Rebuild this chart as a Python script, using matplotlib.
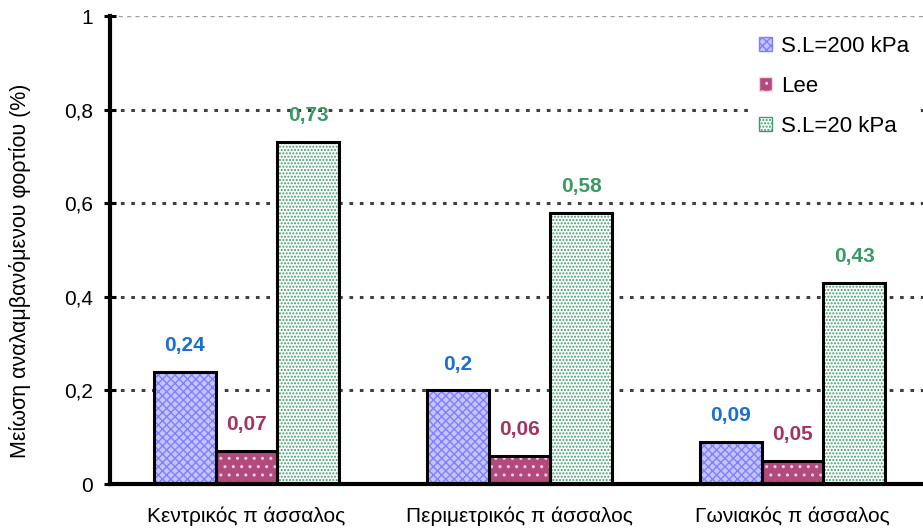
import matplotlib.pyplot as plt
import numpy as np
from matplotlib.ticker import FuncFormatter

plt.rcParams['font.family'] = ['Liberation Sans', 'DejaVu Sans']

katigories = ['Κεντρικός π άσσαλος', 'Περιμετρικός π άσσαλος', 'Γωνιακός π άσσαλος']
seires = ['S.L=200 kPa', 'Lee', 'S.L=20 kPa']
sl200 = [0.24, 0.20, 0.09]
lee = [0.07, 0.06, 0.05]
sl20 = [0.73, 0.58, 0.43]

# (χρώμα γεμίσματος, χρώμα μοτίβου, μοτίβο, χρώμα ετικέτας)
styl = [
    ('#c4c4ff', '#7f7fff', 'xxxx', '#1a6fd0'),
    ('#b34a7c', '#f2d6e3', '..', '#a23462'),
    ('#ffffff', '#3c9d6c', '.....', '#3a9a66'),
]

fig = plt.figure(figsize=(9.23, 5.29), dpi=100)
ax = fig.add_axes([110 / 923, 45 / 529, 819 / 923, 468 / 529])

x = np.arange(len(katigories))
w = 0.227
for i, (vals, name) in enumerate(zip([sl200, lee, sl20], seires)):
    fc, hc, hatch, lc = styl[i]
    pos = x + (i - 1) * w
    ax.bar(pos, vals, w, color=fc, edgecolor=hc, hatch=hatch, linewidth=0, zorder=2)
    ax.bar(pos, vals, w, fill=False, edgecolor='black', linewidth=2.2, zorder=3)
    # στοιχείο υπομνήματος
    ax.bar([0], [0], 0, color=fc, edgecolor=hc, hatch=hatch, label=name)
    for p, v in zip(pos, vals):
        ax.annotate(f'{v:g}'.replace('.', ','), (p, v), xytext=(0, 19),
                    textcoords='offset points', ha='center', va='center',
                    fontsize=15, fontweight='bold', color=lc)

ax.set_xlim(-0.5, 2.5)
ax.set_ylim(0, 1)
ax.set_yticks([0, 0.2, 0.4, 0.6, 0.8, 1])
ax.yaxis.set_major_formatter(FuncFormatter(lambda v, _: f'{v:g}'.replace('.', ',')))
ax.set_xticks(x)
ax.set_xticklabels(katigories, fontsize=15)
ax.tick_params(axis='x', length=0, pad=16)
ax.tick_params(axis='y', direction='inout', length=9, width=2.2, labelsize=15, pad=8)
ax.set_ylabel('Μείωση αναλαμβανόμενου φορτίου (%)', fontsize=15.5)
ax.yaxis.set_label_coords(-0.096, 0.455)

for y in [0.2, 0.4, 0.6, 0.8]:
    ax.axhline(y, color='#404040', linestyle=(0, (1.2, 2.2)), linewidth=2.2, zorder=1)
ax.axhline(1, color='#a0a0a0', linestyle=(0, (3, 3)), linewidth=1, zorder=1)

for s in ['top', 'right']:
    ax.spines[s].set_visible(False)
for s in ['left', 'bottom']:
    ax.spines[s].set_linewidth(3)

leg = ax.legend(loc='upper right', bbox_to_anchor=(0.995, 0.99), frameon=True,
                fancybox=False, edgecolor='none', facecolor='white', framealpha=1,
                fontsize=16, handlelength=0.6, handleheight=0.6, handletextpad=0.4,
                labelspacing=0.85, borderaxespad=0.2, borderpad=0.5)
leg.set_zorder(5)

plt.savefig('out.png', dpi=100)
